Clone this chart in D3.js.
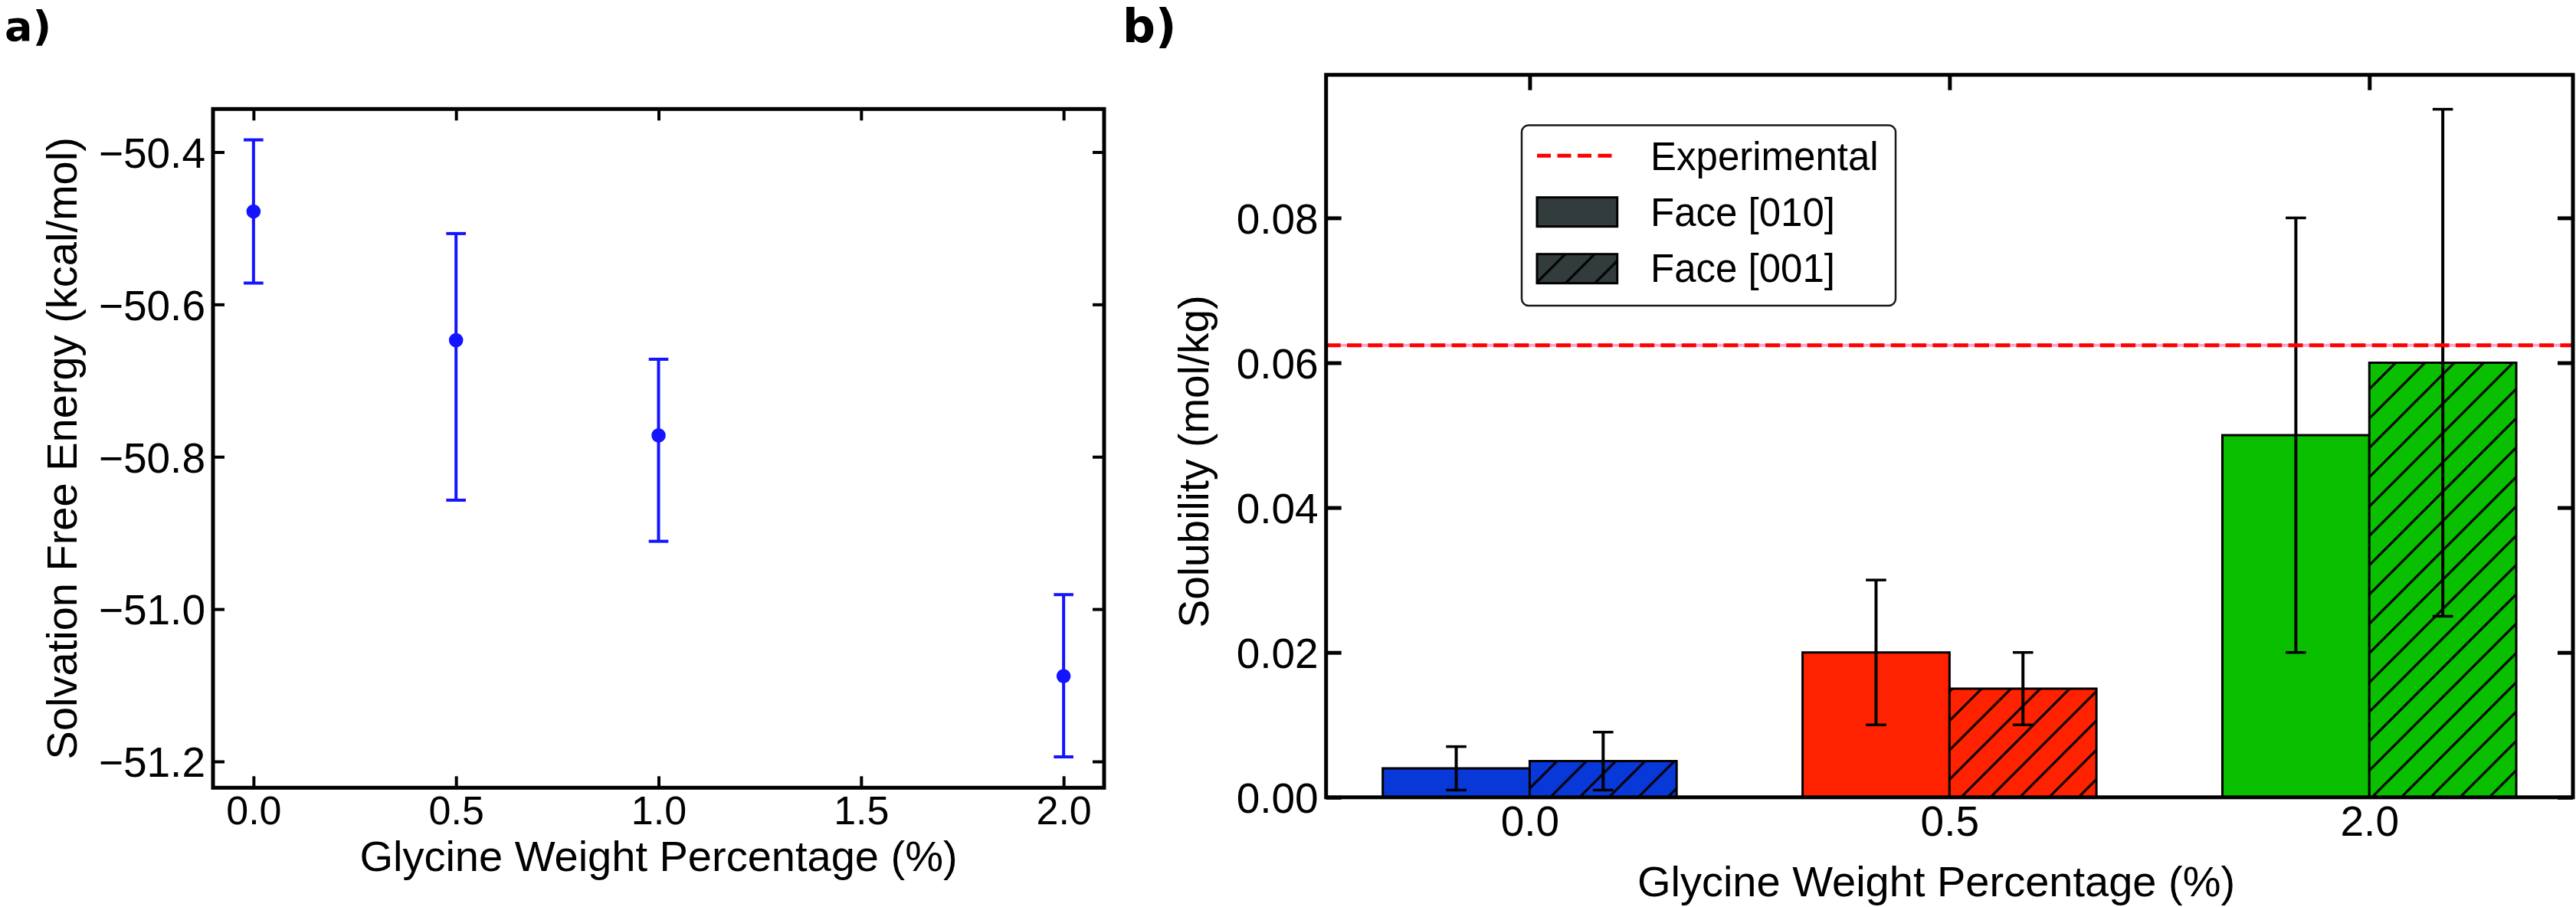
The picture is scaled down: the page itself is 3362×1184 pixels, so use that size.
<!DOCTYPE html>
<html>
<head>
<meta charset="utf-8">
<script src="https://cdn.jsdelivr.net/npm/d3@7"></script>
<style>
body { margin: 0; background: #fff; }
svg text { font-family: "Liberation Sans", Arial, sans-serif; fill: #000; }
</style>
</head>
<body>
<svg width="3362" height="1184"></svg>
<script>
'use strict';
// panel a data: solvation free energy vs glycine wt%
let aGly = [0.0, 0.5, 1.0, 2.0]
let aEnergy = [-50.478, -50.647, -50.772, -51.088]
let aErrLo = [0.094, 0.210, 0.139, 0.106]
let aErrHi = [0.094, 0.140, 0.100, 0.107]
let aTicksX = [0, 0.5, 1.0, 1.5, 2.0]
let aTicksY = [-51.2, -51.0, -50.8, -50.6, -50.4]

// panel b data: solubility per face
let bCats = ["0.0", "0.5", "2.0"]
let b010 = [0.004, 0.020, 0.050]
let b010Err = [0.003, 0.010, 0.030]
let b001 = [0.005, 0.015, 0.060]
let b001Err = [0.004, 0.005, 0.035]
let bColors = ["#0838d8", "#ff2200", "#0abf00"]
let bExperimental = 0.0624
let bTicksY = [0, 0.02, 0.04, 0.06, 0.08]
let bLegend = ["Experimental", "Face [010]", "Face [001]"]

let eSvg = d3.select("svg")

// hatch for the [001] bars
let eDefs = eSvg.append("defs")
eDefs.append("pattern")
	.attr("id", "hatch")
	.attr("patternUnits", "userSpaceOnUse")
	.attr("width", 38.3).attr("height", 38.3)
	.append("path")
	.attr("d", "M0,38.3L38.3,0M-9.6,9.6L9.6,-9.6M28.7,47.9L47.9,28.7")
	.attr("stroke", "#000").attr("stroke-width", 3)

// matplotlib-ish autoscale margin
function padded(lo, hi, frac) {
	let p = (hi - lo) * frac
	return [lo - p, hi + p]}

function styleAxis(g, size) {
	g.select(".domain").remove()
	g.selectAll(".tick line").attr("stroke", "#000")
	g.selectAll("text").attr("font-size", size)
		.attr("font-family", "Liberation Sans, Arial, sans-serif")}

// ---------- panel a ----------
let fa = {left: 278, right: 1441, top: 142.3, bottom: 1028.3}
let gA = eSvg.append("g")

let xA = d3.scaleLinear()
	.domain(padded(d3.min(aGly), d3.max(aGly), 0.05))
	.range([fa.left, fa.right])
let yA = d3.scaleLinear()
	.domain(padded(
		d3.min(aEnergy, (v, i) => v - aErrLo[i]),
		d3.max(aEnergy, (v, i) => v + aErrHi[i]), 0.05))
	.range([fa.bottom, fa.top])

let f1 = d3.format(".1f")
gA.append("g").attr("transform", `translate(0,${fa.bottom})`)
	.call(d3.axisBottom(xA).tickValues(aTicksX).tickFormat(f1).tickSize(-15).tickPadding(11))
	.call(g => styleAxis(g, 52))
	.call(g => g.selectAll(".tick line").attr("stroke-width", 4))
gA.append("g").attr("transform", `translate(0,${fa.top})`)
	.call(d3.axisTop(xA).tickValues(aTicksX).tickFormat("").tickSize(-15))
	.call(g => styleAxis(g, 52))
	.call(g => g.selectAll(".tick line").attr("stroke-width", 4))
gA.append("g").attr("transform", `translate(${fa.left},0)`)
	.call(d3.axisLeft(yA).tickValues(aTicksY).tickFormat(f1).tickSize(-15).tickPadding(10))
	.call(g => styleAxis(g, 55))
	.call(g => g.selectAll(".tick line").attr("stroke-width", 4))
	.call(g => g.selectAll("text").attr("dy", "0.36em"))
gA.append("g").attr("transform", `translate(${fa.right},0)`)
	.call(d3.axisRight(yA).tickValues(aTicksY).tickFormat("").tickSize(-15))
	.call(g => styleAxis(g, 55))
	.call(g => g.selectAll(".tick line").attr("stroke-width", 4))

// error bars + markers
let aPts = aGly.map((x, i) => ({x: x, y: aEnergy[i], lo: aEnergy[i] - aErrLo[i], hi: aEnergy[i] + aErrHi[i]}))
let eErrA = gA.append("g").attr("stroke", "#1414ff").attr("stroke-width", 4)
	.selectAll("g").data(aPts).join("g")
eErrA.append("line")
	.attr("x1", d => xA(d.x)).attr("x2", d => xA(d.x))
	.attr("y1", d => yA(d.lo)).attr("y2", d => yA(d.hi))
eErrA.selectAll(".cap").data(d => [[d.x, d.lo], [d.x, d.hi]]).join("line")
	.attr("class", "cap")
	.attr("x1", d => xA(d[0]) - 12.8).attr("x2", d => xA(d[0]) + 12.8)
	.attr("y1", d => yA(d[1])).attr("y2", d => yA(d[1]))
gA.append("g").selectAll("circle").data(aPts).join("circle")
	.attr("cx", d => xA(d.x)).attr("cy", d => yA(d.y))
	.attr("r", 9.3).attr("fill", "#1414ff")

gA.append("rect")
	.attr("x", fa.left).attr("y", fa.top)
	.attr("width", fa.right - fa.left).attr("height", fa.bottom - fa.top)
	.attr("fill", "none").attr("stroke", "#000").attr("stroke-width", 5)

gA.append("text").attr("x", (fa.left + fa.right) / 2).attr("y", 1137)
	.attr("text-anchor", "middle").attr("font-size", 56)
	.text("Glycine Weight Percentage (%)")
gA.append("text").attr("transform", `translate(100,${(fa.top + fa.bottom) / 2}) rotate(-90)`)
	.attr("text-anchor", "middle").attr("font-size", 56)
	.text("Solvation Free Energy (kcal/mol)")
gA.append("text").attr("x", 6).attr("y", 53)
	.attr("font-size", 54).attr("font-weight", "bold")
	.style("font-family", "'DejaVu Sans', sans-serif")
	.text("a)")

// ---------- panel b ----------
let fb = {left: 1730.7, right: 3358, top: 97.7, bottom: 1040.8}
let gB = eSvg.append("g")
let bW = 0.35

let xB = d3.scaleLinear()
	.domain(padded(-bW, bCats.length - 1 + bW, 0.05))
	.range([fb.left, fb.right])
let yB = d3.scaleLinear()
	.domain([0, 1.05 * d3.max(b010.map((v, i) => v + b010Err[i]).concat(b001.map((v, i) => v + b001Err[i])))])
	.range([fb.bottom, fb.top])

// bars: solid left of the tick, hatched right of it
let tBars = []
bCats.forEach((c, i) => {
	tBars.push({i: i, x0: i - bW, v: b010[i], e: b010Err[i], hatch: false, col: bColors[i]})
	tBars.push({i: i, x0: i, v: b001[i], e: b001Err[i], hatch: true, col: bColors[i]})})

let eBars = gB.append("g").selectAll("g").data(tBars).join("g")
eBars.append("rect")
	.attr("x", d => xB(d.x0)).attr("width", d => xB(d.x0 + bW) - xB(d.x0))
	.attr("y", d => yB(d.v)).attr("height", d => yB(0) - yB(d.v))
	.attr("fill", d => d.col)
eBars.filter(d => d.hatch).append("rect")
	.attr("x", d => xB(d.x0)).attr("width", d => xB(d.x0 + bW) - xB(d.x0))
	.attr("y", d => yB(d.v)).attr("height", d => yB(0) - yB(d.v))
	.attr("fill", "url(#hatch)")
eBars.append("rect")
	.attr("x", d => xB(d.x0)).attr("width", d => xB(d.x0 + bW) - xB(d.x0))
	.attr("y", d => yB(d.v)).attr("height", d => yB(0) - yB(d.v))
	.attr("fill", "none").attr("stroke", "#000").attr("stroke-width", 3)

// error bars
let eErrB = gB.append("g").attr("stroke", "#000").attr("stroke-width", 4)
	.selectAll("g").data(tBars).join("g")
eErrB.append("line")
	.attr("x1", d => xB(d.x0 + bW / 2)).attr("x2", d => xB(d.x0 + bW / 2))
	.attr("y1", d => yB(d.v - d.e)).attr("y2", d => yB(d.v + d.e))
eErrB.selectAll(".cap").data(d => [[d.x0 + bW / 2, d.v - d.e], [d.x0 + bW / 2, d.v + d.e]]).join("line")
	.attr("class", "cap").attr("stroke-width", 3.5)
	.attr("x1", d => xB(d[0]) - 13.3).attr("x2", d => xB(d[0]) + 13.3)
	.attr("y1", d => yB(d[1])).attr("y2", d => yB(d[1]))

// experimental reference line
gB.append("line")
	.attr("x1", fb.left).attr("x2", fb.right)
	.attr("y1", yB(bExperimental)).attr("y2", yB(bExperimental))
	.attr("stroke", "#f6a6cf").attr("stroke-width", 4)
gB.append("line")
	.attr("x1", fb.left).attr("x2", fb.right)
	.attr("y1", yB(bExperimental)).attr("y2", yB(bExperimental))
	.attr("stroke", "#ff0000").attr("stroke-width", 5).attr("stroke-dasharray", "19 8.3")

// axes
gB.append("g").attr("transform", `translate(0,${fb.bottom})`)
	.call(d3.axisBottom(xB).tickValues(d3.range(bCats.length)).tickFormat(i => bCats[i]).tickSize(0).tickPadding(11))
	.call(g => styleAxis(g, 55))
gB.append("g").attr("transform", `translate(0,${fb.top})`)
	.call(d3.axisTop(xB).tickValues(d3.range(bCats.length)).tickFormat("").tickSize(-20))
	.call(g => styleAxis(g, 55))
	.call(g => g.selectAll(".tick line").attr("stroke-width", 5))
gB.append("g").attr("transform", `translate(${fb.left},0)`)
	.call(d3.axisLeft(yB).tickValues(bTicksY).tickFormat(d3.format(".2f")).tickSize(-20).tickPadding(10))
	.call(g => styleAxis(g, 55))
	.call(g => g.selectAll(".tick line").attr("stroke-width", 5))
	.call(g => g.selectAll("text").attr("dy", "0.36em"))
gB.append("g").attr("transform", `translate(${fb.right},0)`)
	.call(d3.axisRight(yB).tickValues(bTicksY).tickFormat("").tickSize(-20))
	.call(g => styleAxis(g, 55))
	.call(g => g.selectAll(".tick line").attr("stroke-width", 5))

gB.append("rect")
	.attr("x", fb.left).attr("y", fb.top)
	.attr("width", fb.right - fb.left).attr("height", fb.bottom - fb.top)
	.attr("fill", "none").attr("stroke", "#000").attr("stroke-width", 5)

// legend
let eLeg = gB.append("g")
eLeg.append("rect")
	.attr("x", 1986).attr("y", 163.5).attr("width", 488).attr("height", 235.5)
	.attr("rx", 9).attr("fill", "#fff").attr("stroke", "#1a1a1a").attr("stroke-width", 2.5)
eLeg.append("line")
	.attr("x1", 2006).attr("x2", 2108).attr("y1", 203.3).attr("y2", 203.3)
	.attr("stroke", "#ff0000").attr("stroke-width", 5).attr("stroke-dasharray", "18 8.5")
eLeg.selectAll(".patch").data([false, true]).join("g")
	.attr("class", "patch")
	.each(function(h, k) {
		let g = d3.select(this), y0 = 257.7 + k * 74
		g.append("rect").attr("x", 2006).attr("y", y0).attr("width", 104.7).attr("height", 38)
			.attr("fill", "#323c3c")
		if (h) g.append("rect").attr("x", 2006).attr("y", y0).attr("width", 104.7).attr("height", 38)
			.attr("fill", "url(#hatch)")
		g.append("rect").attr("x", 2006).attr("y", y0).attr("width", 104.7).attr("height", 38)
			.attr("fill", "none").attr("stroke", "#000").attr("stroke-width", 3)})
eLeg.selectAll(".ltxt").data(bLegend).join("text")
	.attr("class", "ltxt")
	.attr("x", 2154).attr("y", (d, i) => 221.7 + i * 73.3)
	.attr("font-size", 51)
	.text(d => d)

gB.append("text").attr("x", 2527).attr("y", 1170)
	.attr("text-anchor", "middle").attr("font-size", 56)
	.text("Glycine Weight Percentage (%)")
gB.append("text").attr("transform", "translate(1577,602.5) rotate(-90)")
	.attr("text-anchor", "middle").attr("font-size", 55)
	.text("Solubility (mol/kg)")
gB.append("text").attr("x", 1465).attr("y", 55)
	.attr("font-size", 60).attr("font-weight", "bold")
	.style("font-family", "'DejaVu Sans', sans-serif")
	.text("b)")
</script>
</body>
</html>
